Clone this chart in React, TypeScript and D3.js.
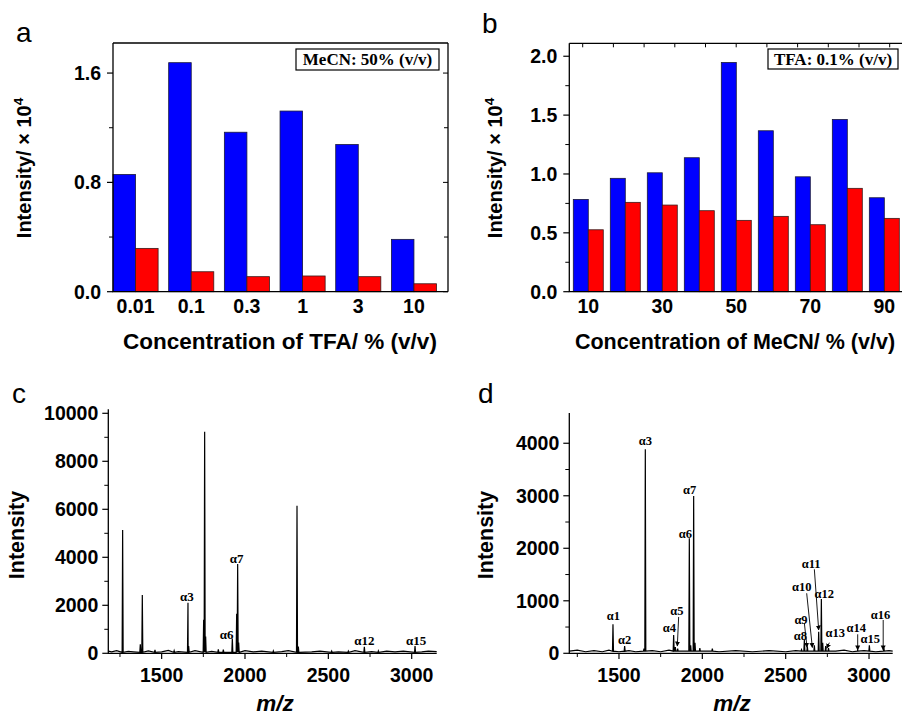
import React from 'react';
import * as d3 from 'd3';

// panel a: TFA series (MeCN 50%)
const tfaCats = ['0.01', '0.1', '0.3', '1', '3', '10'];
const tfaBlue = [0.858, 1.676, 1.167, 1.322, 1.077, 0.383];
const tfaRed = [0.317, 0.146, 0.11, 0.115, 0.11, 0.058];
const tfaTicks = [0, 0.8, 1.6];

// panel b: MeCN series (TFA 0.1%)
const mecnCats = ['10', '20', '30', '40', '50', '60', '70', '80', '90'];
const mecnBlue = [0.784, 0.963, 1.01, 1.138, 1.947, 1.367, 0.976, 1.463, 0.798];
const mecnRed = [0.526, 0.759, 0.736, 0.688, 0.606, 0.64, 0.569, 0.878, 0.623];
const mecnTickLabels = ['10', '30', '50', '70', '90'];
const mecnTicks = [0, 0.5, 1.0, 1.5, 2.0];

// panel c: spectrum peaks [m/z, intensity]
const cPeaks: [number, number][] = [
  [1266, 5140], [1372, 380], [1384, 2430], [1460, 140], [1575, 110],
  [1658, 2110], [1662, 300], [1752, 1400], [1758, 9230], [1764, 700],
  [1840, 170], [1870, 150], [1924, 620], [1950, 1650], [1956, 3720],
  [1962, 450], [2170, 100], [2312, 6150], [2320, 280], [2520, 90],
  [2620, 90], [2716, 275], [2800, 100], [3020, 300],
];
const cNoise: [number, number][] = [
  [1180, 90], [1200, 60], [1230, 110], [1300, 80], [1330, 60], [1420, 100],
  [1500, 60], [1540, 120], [1600, 70], [1700, 110], [1800, 80], [2000, 110],
  [2050, 60], [2100, 90], [2220, 70], [2260, 110], [2400, 60], [2450, 90],
  [2560, 60], [2660, 110], [2760, 70], [2850, 90], [2900, 60], [2950, 90],
  [3060, 60], [3100, 90], [3150, 70],
];
const cLabels: [string, number, number][] = [
  ['α3', 1652, 2358], ['α6', 1890, 804], ['α7', 1950, 3958],
  ['α12', 2716, 554], ['α15', 3026, 525],
];

// panel d: spectrum peaks [m/z, intensity]
const dPeaks: [number, number][] = [
  [1464, 552], [1534, 139], [1650, 90], [1658, 3886], [1828, 349],
  [1838, 120], [1852, 90], [1922, 2190], [1930, 150], [1948, 2997],
  [1956, 200], [1985, 100], [2060, 90], [2595, 70], [2612, 253],
  [2630, 130], [2672, 150], [2698, 411], [2714, 1034], [2722, 200],
  [2740, 140], [2757, 100], [2932, 60], [3002, 150], [3089, 100],
];
const dNoise: [number, number][] = [
  [1202, 40], [1250, 60], [1300, 30], [1350, 50], [1400, 30], [1440, 60],
  [1500, 30], [1560, 50], [1600, 30], [1700, 50], [1750, 30], [1800, 60],
  [2000, 40], [2100, 30], [2200, 50], [2300, 30], [2400, 50], [2500, 30],
  [2560, 50], [2800, 40], [2850, 60], [2900, 30], [2970, 50], [3040, 30],
  [3120, 50], [3142, 40],
];
const dLabels: [string, number, number][] = [
  ['α1', 1466, 710], ['α2', 1534, 253], ['α3', 1658, 4044], ['α4', 1802, 488],
  ['α5', 1848, 811], ['α6', 1898, 2286], ['α7', 1924, 3110], ['α8', 2588, 330],
  ['α9', 2592, 648], ['α10', 2597, 1269], ['α11', 2653, 1714], ['α12', 2732, 1143],
  ['α13', 2797, 392], ['α14', 2923, 488], ['α15', 3007, 286], ['α16', 3069, 743],
];
// arrows [from m/z, from intensity, to m/z, to intensity]
const dArrows: [number, number, number, number][] = [
  [1858, 692, 1850, 139], [2612, 577, 2628, 114], [2626, 1143, 2660, 110],
  [2672, 1600, 2698, 444], [2762, 202, 2746, 95], [2932, 362, 2932, 63],
  [3085, 634, 3085, 63],
];

const sans = 'Liberation Sans, Arial, sans-serif';
const serif = 'Liberation Serif, Times New Roman, serif';
const BLUE = '#0000ff';
const RED = '#ff0000';

function spectrum(peaks: [number, number][], noise: [number, number][]) {
  const pts: [number, number][] = [...noise];
  peaks.forEach(([m, h]) => {
    pts.push([m - 3, 40], [m, h], [m + 3, 40]);
  });
  return pts.sort((a, b) => a[0] - b[0]);
}

const BarPanel = ({ cats, blue, red, yMax, yTicks, yFmt, x0, x1, bandEnd, y0, y1, tickLabels, legend, legendBox, yTitleX, titleX, titleSize, title, rightFrame, topTicks }: any) => {
  const x = d3.scaleBand().domain(cats).range(bandEnd).paddingInner(0.19).paddingOuter(0);
  const y = d3.scaleLinear().domain([0, yMax]).range([y0, y1]);
  const half = x.bandwidth() / 2;
  const minors = d3.range(0, yMax, yTicks[1] / 2).filter((v: number) => !yTicks.some((t: number) => Math.abs(t - v) < 1e-6));
  return (
    <g>
      {cats.map((c: string, i: number) => (
        <g key={c}>
          <rect x={x(c)} y={y(blue[i])} width={half} height={y0 - y(blue[i])} fill={BLUE} stroke="#1a1a3a" strokeWidth={0.8} />
          <rect x={(x(c) as number) + half} y={y(red[i])} width={half} height={y0 - y(red[i])} fill={RED} stroke="#3a1a1a" strokeWidth={0.8} />
        </g>
      ))}
      <path d={`M${x0},${y1}V${y0}H${x1}`} fill="none" stroke="#000" strokeWidth={1.3} />
      <line x1={x0} x2={x1} y1={y1} y2={y1} stroke="#000" strokeWidth={1.3} />
      {rightFrame && <line x1={x1} x2={x1} y1={y1} y2={y0} stroke="#000" strokeWidth={1.3} />}
      {yTicks.map((t: number) => (
        <g key={t}>
          <line x1={x0 - 6} x2={x0} y1={y(t)} y2={y(t)} stroke="#000" strokeWidth={1.2} />
          {rightFrame && <line x1={x1 - 5} x2={x1} y1={y(t)} y2={y(t)} stroke="#000" strokeWidth={1} />}
          <text x={x0 - 12} y={y(t)} dy="0.36em" textAnchor="end" fontFamily={sans} fontWeight="bold" fontSize={19.5}>{yFmt(t)}</text>
        </g>
      ))}
      {minors.map((t: number) => (
        <g key={'m' + t}>
          <line x1={x0 - 4} x2={x0} y1={y(t)} y2={y(t)} stroke="#000" strokeWidth={1} />
          {rightFrame && <line x1={x1 - 4} x2={x1} y1={y(t)} y2={y(t)} stroke="#000" strokeWidth={1} />}
        </g>
      ))}
      {topTicks && topTicks.map((tx: number, i: number) => (
        <line key={'t' + i} x1={tx} x2={tx} y1={y1} y2={y1 + 4} stroke="#000" strokeWidth={1} />
      ))}
      {tickLabels.map((c: string) => (
        <text key={'l' + c} x={(x(c) as number) + half} y={313} textAnchor="middle" fontFamily={sans} fontWeight="bold" fontSize={19.5}>{c}</text>
      ))}
      <rect x={legendBox[0]} y={legendBox[1]} width={legendBox[2]} height={legendBox[3]} fill="#fff" stroke="#000" strokeWidth={1.2} />
      <text x={legendBox[0] + legendBox[2] / 2} y={legendBox[1] + 16} textAnchor="middle" fontFamily={serif} fontWeight="bold" fontSize={17}>{legend}</text>
      <text transform={`translate(${yTitleX},168) rotate(-90)`} textAnchor="middle" fontFamily={sans} fontWeight="bold" fontSize={20}>
        Intensity/ × 10<tspan dy={-8} fontSize={13.5}>4</tspan>
      </text>
      <text x={titleX} y={349} textAnchor="middle" fontFamily={sans} fontWeight="bold" fontSize={titleSize}>{title}</text>
    </g>
  );
};

const SpecPanel = ({ peaks, noise, labels, arrows, xDom, xRange, yMax, yTop, yStep, titleX, yTitleX, labelSize }: any) => {
  const x = d3.scaleLinear().domain(xDom).range(xRange);
  const y = d3.scaleLinear().domain([0, yMax]).range([653.3, yTop]);
  const line = d3.line<[number, number]>().x(d => x(d[0])).y(d => y(d[1]));
  const pts = spectrum(peaks, noise);
  const yMaj = d3.range(0, yMax + 1, yStep);
  const yMin = d3.range(yStep / 2, yMax, yStep);
  const xMaj = [1500, 2000, 2500, 3000];
  const xMin = d3.range(1250, xDom[1], 250).filter((v: number) => v % 500 !== 0);
  const ax = xRange[0];
  return (
    <g>
      <path d={line(pts) as string} fill="none" stroke="#000" strokeWidth={1.2} />
      <path d={`M${ax},${y(yMax) - 4}V653.3H${xRange[1]}`} fill="none" stroke="#000" strokeWidth={1.3} />
      {yMaj.map((t: number) => (
        <g key={t}>
          <line x1={ax - 6} x2={ax} y1={y(t)} y2={y(t)} stroke="#000" strokeWidth={1.2} />
          <text x={ax - 10} y={y(t)} dy="0.36em" textAnchor="end" fontFamily={sans} fontWeight="bold" fontSize={19.5}>{t}</text>
        </g>
      ))}
      {yMin.map((t: number) => (
        <line key={'m' + t} x1={ax - 4} x2={ax} y1={y(t)} y2={y(t)} stroke="#000" strokeWidth={1} />
      ))}
      {xMaj.map((t: number) => (
        <g key={'x' + t}>
          <line x1={x(t)} x2={x(t)} y1={653.3} y2={659} stroke="#000" strokeWidth={1.2} />
          <text x={x(t)} y={682} textAnchor="middle" fontFamily={sans} fontWeight="bold" fontSize={19.5}>{t}</text>
        </g>
      ))}
      {xMin.map((t: number) => (
        <line key={'xm' + t} x1={x(t)} x2={x(t)} y1={653.3} y2={657} stroke="#000" strokeWidth={1} />
      ))}
      {labels.map(([s, m, v]: [string, number, number]) => (
        <text key={s} x={x(m)} y={y(v)} dy="0.35em" textAnchor="middle" fontFamily={serif} fontWeight="bold" fontSize={labelSize}>{s}</text>
      ))}
      {arrows && arrows.map(([m0, v0, m1, v1]: number[], i: number) => (
        <line key={'a' + i} x1={x(m0)} y1={y(v0)} x2={x(m1)} y2={y(v1)} stroke="#000" strokeWidth={0.9} markerEnd="url(#arrowHead)" />
      ))}
      <text transform={`translate(${yTitleX},535) rotate(-90)`} textAnchor="middle" fontFamily={sans} fontWeight="bold" fontSize={21.5}>Intensity</text>
      <text x={titleX} y={711} textAnchor="middle" fontFamily={sans} fontWeight="bold" fontStyle="italic" fontSize={22.5}>m/z</text>
    </g>
  );
};

export default function App() {
  const topTickScale = d3.scaleLinear().domain([0, 10]).range([582.7, 889.7]);
  return (
    <svg width={902} height={715} style={{ position: 'absolute', left: 0, top: 0, background: '#fff' }}>
      <defs>
        <marker id="arrowHead" viewBox="0 0 10 10" refX={9} refY={5} markerWidth={5} markerHeight={6} orient="auto" markerUnits="userSpaceOnUse">
          <path d="M0,0L10,5L0,10Z" fill="#000" />
        </marker>
      </defs>
      <rect width={902} height={715} fill="#fff" />
      <text x={16} y={42} fontFamily={sans} fontSize={28}>a</text>
      <text x={482} y={33} fontFamily={sans} fontSize={28}>b</text>
      <text x={12} y={403} fontFamily={sans} fontSize={28}>c</text>
      <text x={478} y={403} fontFamily={sans} fontSize={28}>d</text>

      <BarPanel cats={tfaCats} blue={tfaBlue} red={tfaRed} yMax={1.82} yTicks={tfaTicks} yFmt={(t: number) => t.toFixed(1)}
        x0={113} x1={448} bandEnd={[113, 436.5]} y0={291.7} y1={43}
        tickLabels={tfaCats} legend="MeCN: 50% (v/v)" legendBox={[296, 49, 143, 21]}
        yTitleX={31} titleX={280} titleSize={22.5} title="Concentration of TFA/ % (v/v)" rightFrame={true} />
      <BarPanel cats={mecnCats} blue={mecnBlue} red={mecnRed} yMax={2.11} yTicks={mecnTicks} yFmt={(t: number) => t.toFixed(1)}
        x0={569.3} x1={905} bandEnd={[573.3, 899.3]} y0={291.7} y1={43.3}
        tickLabels={mecnTickLabels} legend="TFA: 0.1% (v/v)" legendBox={[768, 49, 130, 20]}
        yTitleX={502} titleX={735} titleSize={21.5} title="Concentration of MeCN/ % (v/v)" rightFrame={false} topTicks={d3.range(0, 11).map(v => topTickScale(v))} />

      <SpecPanel peaks={cPeaks} noise={cNoise} labels={cLabels} xDom={[1180, 3150]} xRange={[108.3, 436.7]}
        yMax={10000} yTop={413.3} yStep={2000} titleX={275} yTitleX={24} labelSize={13} />
      <SpecPanel peaks={dPeaks} noise={dNoise} labels={dLabels} arrows={dArrows} xDom={[1202, 3142]} xRange={[569.3, 892.7]}
        yMax={4500} yTop={417} yStep={1000} titleX={732} yTitleX={493} labelSize={12.5} />
    </svg>
  );
}
